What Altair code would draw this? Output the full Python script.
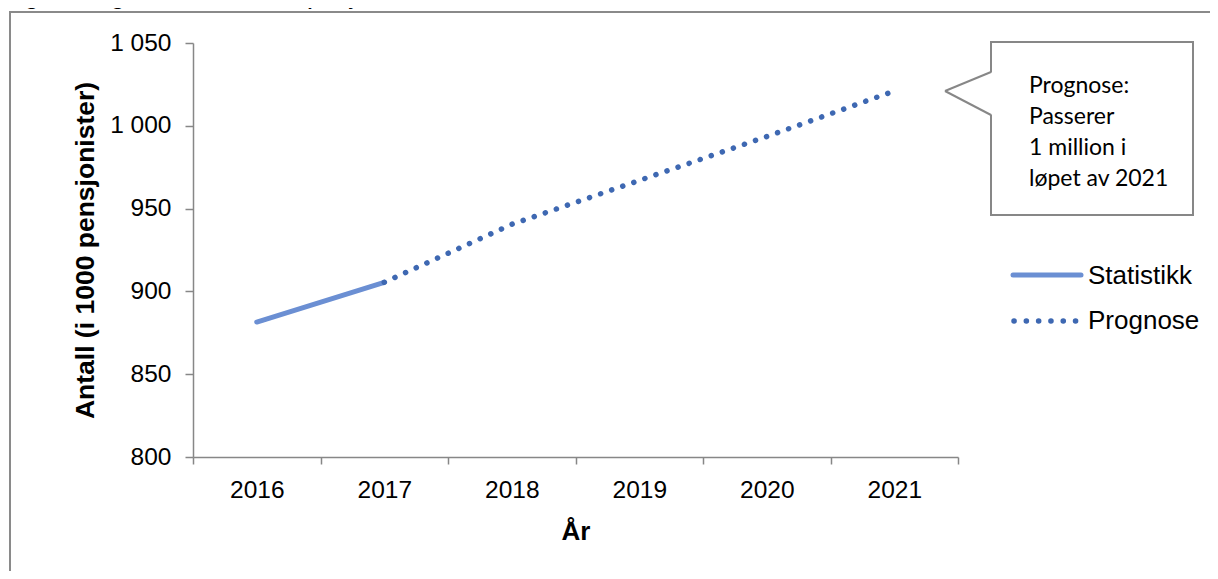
import altair as alt
import pandas as pd

# ---------------- data ----------------
years = ["2016", "2017", "2018", "2019", "2020", "2021"]
stat_years = ["2016", "2017"]
stat_values = [881.5, 905.5]
prog_years = ["2017", "2018", "2019", "2020", "2021"]
prog_values = [905.5, 940.5, 967.0, 993.5, 1021.0]
y_ticks = [800, 850, 900, 950, 1000, 1050]
series_names = ["Statistikk", "Prognose"]
title_text = "Figur 1: Prognose for antall alderspensjonister fram til 2021. Tall i tusen"
callout_lines = ["Prognose:", "Passerer", "1 million i", "løpet av 2021"]
y_title = "Antall (i 1000 pensjonister)"
x_title = "År"

# ---------------- layout ----------------
W, H = 765, 414
PL, PT, PR, PB = 185, 35, 252, 114
OX, OY = 8 + PL, 8 + PT  # page position of plot origin


def px(x):
    return x - OX


def py(y):
    return y - OY


C_STAT = "#6B8FD3"
C_PROG = "#3E68B2"
GRAY = "#878787"
AX_FONT = "Liberation Sans"
TXT_FONT = "Lato"

stat_df = pd.DataFrame({"År": stat_years, "Antall": stat_values, "Serie": series_names[0]})
prog_df = pd.DataFrame({"År": prog_years, "Antall": prog_values, "Serie": series_names[1]})
one = pd.DataFrame({"k": [0]})

x_enc = alt.X(
    "År:N",
    scale=alt.Scale(type="band", domain=years, paddingInner=0, paddingOuter=0),
    axis=alt.Axis(
        title=x_title,
        zindex=1,
        tickBand="extent",
        labelAngle=0,
        labelFont=AX_FONT,
        labelFontSize=24.5,
        labelColor="black",
        labelPadding=14,
        tickSize=7,
        tickColor=GRAY,
        tickWidth=1.5,
        domainColor=GRAY,
        domainWidth=1.5,
        grid=False,
        titleFont=AX_FONT,
        titleFontSize=26,
        titleFontWeight="bold",
        titleColor="black",
        titleX=W / 2,
        titleY=531 - OY - H,
        titleBaseline="middle",
        titleAlign="center",
    ),
)
y_enc = alt.Y(
    "Antall:Q",
    scale=alt.Scale(domain=[800, 1050], nice=False, zero=False),
    axis=alt.Axis(
        title=y_title,
        zindex=1,
        values=y_ticks,
        format=",d",
        labelExpr="replace(datum.label, ',', ' ')",
        labelFont=AX_FONT,
        labelFontSize=24.5,
        labelColor="black",
        labelPadding=14,
        tickSize=8,
        tickColor=GRAY,
        tickWidth=1.5,
        domainColor=GRAY,
        domainWidth=1.5,
        grid=False,
        titleFont=AX_FONT,
        titleFontSize=26.5,
        titleFontWeight="bold",
        titleColor="black",
        titleAngle=270,
        titleX=85 - OX,
        titleY=H / 2,
        titleBaseline="middle",
        titleAlign="center",
    ),
)

frame = alt.Chart(one).mark_rect(fillOpacity=0, stroke="#8A8A8A", strokeWidth=2).encode(
    x=alt.value(px(10)), x2=alt.value(px(1240)), y=alt.value(py(12)), y2=alt.value(py(620))
)

title = alt.Chart(one).mark_text(
    text=title_text, font=TXT_FONT, fontSize=20, fontWeight="bold", align="left",
    baseline="alphabetic", color="black"
).encode(x=alt.value(px(10)), y=alt.value(py(5)))

stat_line = alt.Chart(stat_df).mark_line(
    color=C_STAT, strokeWidth=5, strokeCap="round"
).encode(x=x_enc, y=y_enc)

prog_line = alt.Chart(prog_df).mark_line(
    color=C_PROG, strokeWidth=5.5, strokeCap="round", strokeDash=[0.1, 11.6]
).encode(x=alt.X("År:N"), y=alt.Y("Antall:Q"))

# callout box
box = alt.Chart(one).mark_rect(fill="white", stroke=GRAY, strokeWidth=2).encode(
    x=alt.value(px(991)), x2=alt.value(px(1193)), y=alt.value(py(42)), y2=alt.value(py(215))
)
gap = alt.Chart(one).mark_rule(color="white", strokeWidth=4).encode(
    x=alt.value(px(991)), x2=alt.value(px(991)), y=alt.value(py(72.5)), y2=alt.value(py(114.5))
)
ptr1 = alt.Chart(one).mark_rule(color=GRAY, strokeWidth=2).encode(
    x=alt.value(px(991)), x2=alt.value(px(945)), y=alt.value(py(72)), y2=alt.value(py(91))
)
ptr2 = alt.Chart(one).mark_rule(color=GRAY, strokeWidth=2).encode(
    x=alt.value(px(945)), x2=alt.value(px(991)), y=alt.value(py(91)), y2=alt.value(py(115))
)
call_txt = alt.Chart(pd.DataFrame({"t": ["\n".join(callout_lines)]})).mark_text(
    font=TXT_FONT, fontSize=23, align="left", baseline="alphabetic", lineBreak="\n",
    lineHeight=31, color="black"
).encode(text="t:N", x=alt.value(px(1029)), y=alt.value(py(93)))

# legend
leg_stat = alt.Chart(one).mark_rule(color=C_STAT, strokeWidth=5, strokeCap="round").encode(
    x=alt.value(px(1013)), x2=alt.value(px(1081)), y=alt.value(py(275)), y2=alt.value(py(275))
)
leg_prog = alt.Chart(one).mark_rule(
    color=C_PROG, strokeWidth=5.5, strokeCap="round", strokeDash=[0.1, 12.2]
).encode(x=alt.value(px(1014)), x2=alt.value(px(1076)), y=alt.value(py(321)), y2=alt.value(py(321)))
leg_txt = alt.Chart(pd.DataFrame({"s": series_names, "yy": [py(276), py(321)]})).mark_text(
    font=AX_FONT, fontSize=26, align="left", baseline="middle", color="black"
).encode(text="s:N", x=alt.value(px(1088)), y=alt.Y("yy:Q", scale=None))

chart = alt.layer(
    frame, stat_line, prog_line, box, gap, ptr1, ptr2, call_txt, leg_stat, leg_prog, leg_txt, title
).properties(
    width=W, height=H, autosize=alt.AutoSizeParams(type="none"),
    padding={"left": PL, "top": PT, "right": PR, "bottom": PB},
    background="white",
).configure_view(stroke=None)

chart.save("out.html", embed_options={"renderer": "svg", "actions": False})
